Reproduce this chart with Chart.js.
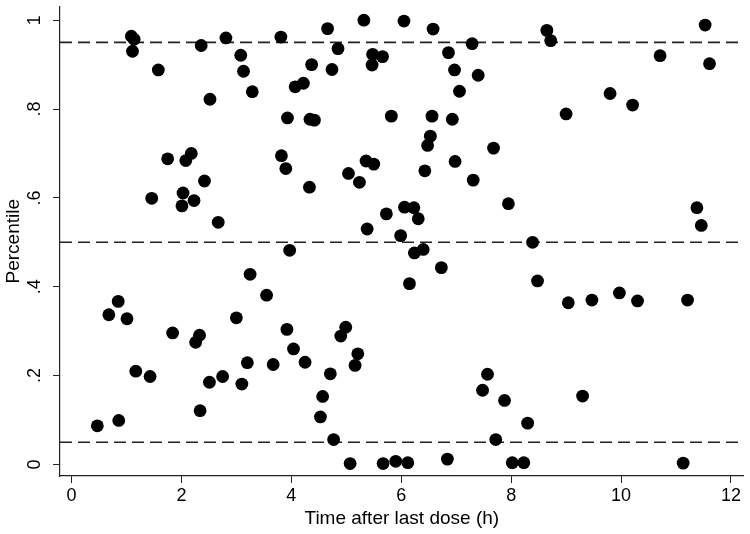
<!DOCTYPE html>
<html>
<head>
<meta charset="utf-8">
<script src="https://cdn.jsdelivr.net/npm/chart.js@4.4.1/dist/chart.umd.min.js"></script>
<style>
  html, body { margin: 0; padding: 0; background: #fff; }
  #wrap { width: 750px; height: 534px; }
</style>
</head>
<body>
<div id="wrap"><canvas id="chart"></canvas></div>
<script>
// time after last dose (h) and percentile
const timeH = [
  1.09, 1.14, 1.11, 1.58, 2.36, 2.81, 3.08, 3.13, 3.29, 2.52, 3.93,
  1.75, 2.08, 2.18, 3.82, 3.90, 2.42, 1.46, 2.03, 2.01, 2.23, 2.67,
  3.81, 4.66, 5.32, 6.05, 6.58, 4.85, 5.48, 5.66, 5.47, 4.37, 4.74,
  4.07, 4.22, 6.86, 7.29, 6.97, 7.40, 7.06, 4.34, 4.42, 5.82, 6.56,
  6.93, 6.53, 6.48, 7.68, 5.36, 5.50, 5.04, 5.24, 4.33, 6.43, 6.98,
  7.31, 7.95, 5.73, 6.06, 6.23, 6.31, 5.38, 5.99,
  8.65, 8.72, 11.53, 10.71, 11.61, 9.80, 10.21, 9.00, 11.38, 11.46, 8.39,
  3.97, 3.25, 3.55, 0.85, 0.68, 1.01, 3.00, 3.92, 1.84, 2.33, 2.26,
  1.17, 1.43, 3.20, 3.67, 2.51, 2.75, 3.10, 2.34, 0.47, 0.86,
  6.24, 6.40, 6.73, 6.15, 4.04, 4.25, 4.99, 4.90, 5.21, 5.16, 4.71,
  4.57, 4.53, 4.77, 5.07, 5.67, 5.90, 6.12, 6.84, 7.57, 7.48, 7.88, 7.72,
  8.48, 9.04, 9.47, 9.97, 10.30, 11.21, 8.30, 9.30, 8.02, 8.23, 11.13
];
const pct = [
  0.964, 0.957, 0.930, 0.888, 0.943, 0.960, 0.921, 0.885, 0.839, 0.822, 0.780,
  0.688, 0.684, 0.700, 0.695, 0.666, 0.638, 0.599, 0.611, 0.582, 0.594, 0.545,
  0.962, 0.981, 1.000, 0.998, 0.980, 0.936, 0.923, 0.918, 0.899, 0.900, 0.889,
  0.850, 0.858, 0.927, 0.947, 0.888, 0.876, 0.840, 0.777, 0.775, 0.784, 0.784,
  0.777, 0.739, 0.718, 0.712, 0.683, 0.676, 0.655, 0.635, 0.624, 0.661, 0.682,
  0.640, 0.587, 0.564, 0.579, 0.578, 0.553, 0.530, 0.515,
  0.977, 0.954, 0.989, 0.920, 0.902, 0.835, 0.809, 0.789, 0.578, 0.538, 0.500,
  0.482, 0.428, 0.381, 0.367, 0.337, 0.328, 0.330, 0.304, 0.296, 0.291, 0.275,
  0.210, 0.198, 0.229, 0.225, 0.185, 0.198, 0.181, 0.121, 0.087, 0.099,
  0.476, 0.484, 0.443, 0.407, 0.260, 0.230, 0.309, 0.289, 0.249, 0.223, 0.204,
  0.153, 0.107, 0.056, 0.002, 0.002, 0.007, 0.004, 0.012, 0.203, 0.167, 0.144, 0.056,
  0.413, 0.364, 0.370, 0.386, 0.368, 0.370, 0.093, 0.154, 0.004, 0.004, 0.003
];
const refLevels = [0.05, 0.5, 0.95];
const xTicks = [0, 2, 4, 6, 8, 10, 12];
const yTicks = [0, 0.2, 0.4, 0.6, 0.8, 1];

const X_MIN = -0.209, X_MAX = 12.23;
const Y_MIN = -0.026, Y_MAX = 1.031;

const points = timeH.map((t, i) => ({ x: t, y: pct[i] }));

const datasets = refLevels.map(v => ({
  type: 'line',
  data: [{ x: X_MIN, y: v }, { x: X_MAX, y: v }],
  borderColor: '#222',
  borderWidth: 1.6,
  borderDash: [12, 6],
  pointRadius: 0,
  order: 2
}));
datasets.push({
  type: 'scatter',
  data: points,
  backgroundColor: '#000',
  borderWidth: 0,
  pointRadius: 6.4,
  order: 1
});

const fontFam = '"Liberation Sans", Arial, Helvetica, sans-serif';
const axisColor = '#222';

new Chart(document.getElementById('chart'), {
  type: 'scatter',
  data: { datasets: datasets },
  options: {
    responsive: true,
    maintainAspectRatio: false,
    animation: false,
    layout: { padding: { top: 5, right: 5, left: 0, bottom: 0 } },
    plugins: { legend: { display: false }, tooltip: { enabled: false } },
    scales: {
      x: {
        type: 'linear',
        min: X_MIN,
        max: X_MAX,
        afterBuildTicks: s => { s.ticks = xTicks.map(v => ({ value: v })); },
        afterFit: s => { s.height = 58; s.paddingLeft = 0; s.paddingRight = 0; },
        grid: { display: true, drawOnChartArea: false, drawTicks: true, tickLength: 7, color: axisColor },
        border: { display: true, color: axisColor, width: 1.2 },
        ticks: { color: '#000', font: { family: fontFam, size: 18 }, padding: 2, maxRotation: 0, autoSkip: false },
        title: { display: true, text: 'Time after last dose (h)', color: '#000', font: { family: fontFam, size: 19 }, padding: { top: 0, bottom: 4 } }
      },
      y: {
        type: 'linear',
        min: Y_MIN,
        max: Y_MAX,
        afterBuildTicks: s => { s.ticks = yTicks.map(v => ({ value: v })); },
        afterFit: s => { s.width = 60; s.paddingTop = 0; s.paddingBottom = 0; },
        grid: { display: true, drawOnChartArea: false, drawTicks: true, tickLength: 7, color: axisColor },
        border: { display: true, color: axisColor, width: 1.2 },
        ticks: {
          color: '#000',
          font: { family: fontFam, size: 18 },
          padding: 10,
          crossAlign: 'center',
          minRotation: 90,
          maxRotation: 90,
          autoSkip: false,
          callback: v => v === 0 ? '0' : (v === 1 ? '1' : String(v).replace(/^0/, ''))
        },
        title: { display: true, text: 'Percentile', color: '#000', font: { family: fontFam, size: 19 }, padding: { top: 2, bottom: 0 } }
      }
    }
  }
});
</script>
</body>
</html>
